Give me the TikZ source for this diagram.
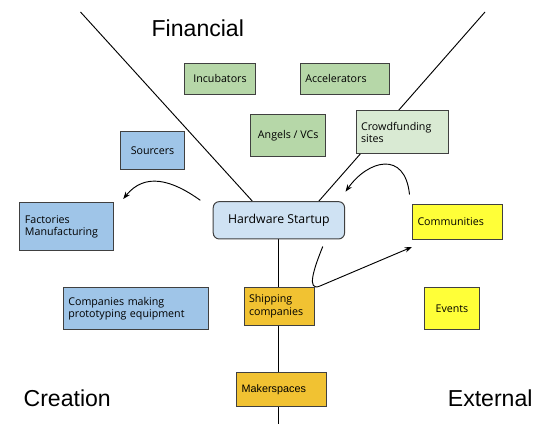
\documentclass[tikz,border=0pt]{standalone}
\usepackage{fontspec}
\setmainfont{Open Sans}
\newfontfamily\areafont{Liberation Sans}
\usepackage{tikz}
\usetikzlibrary{arrows.meta,calc,backgrounds}
\definecolor{creablue}{HTML}{9FC5E8}
\definecolor{startblue}{HTML}{CFE2F3}
\definecolor{fingreen}{HTML}{B6D7A8}
\definecolor{crowdgreen}{HTML}{D9EAD3}
\definecolor{extyellow}{HTML}{FFFF38}
\definecolor{shiporange}{HTML}{F1C232}
\definecolor{boxline}{HTML}{404040}
\tikzset{box/.style={draw=boxline, line width=0.75pt, inner sep=0pt, font=\fontsize{8}{9.3}\selectfont},
cbox/.style={box, align=center},
lbox/.style={box, align=left, inner xsep=3.75pt},
area/.style={font=\areafont\fontsize{17.3}{20}\selectfont},
link/.style={line width=0.7pt},
flow/.style={line width=0.7pt, -{Stealth[length=5.5pt,width=4pt]}}}

\begin{document}
\begin{tikzpicture}[x=0.75pt,y=-0.75pt]
\useasboundingbox (0,0) rectangle (549,438);

\node[area] (fin) at (197.8,28.3) {Financial};
\node[area] (crea) at (67.2,398.3) {Creation};
\node[area] (ext) at (490.2,398.3) {External};

% financial
\node[cbox, fill=fingreen, minimum width=53.3pt, minimum height=23.5pt] (incub) at (220,79) {Incubators};
\node[lbox, fill=fingreen, text width=59.5pt, minimum height=23.5pt] (accel) at (345,79) {Accelerators};
\node[cbox, fill=fingreen, minimum width=56.3pt, minimum height=31.5pt] (angels) at (288.2,135.7) {Angels / VCs};
\node[lbox, fill=crowdgreen, text width=61.8pt, minimum height=32pt] (crowd) at (402.3,132.3) {Crowdfunding\\sites};

% creation
\node[cbox, fill=creablue, minimum width=48.6pt, minimum height=28.7pt] (sourc) at (152.5,150.8) {Sourcers};
\node[lbox, fill=creablue, text width=62.3pt, minimum height=36pt] (fact) at (66.5,226.7) {Factories\\Manufacturing};
\node[lbox, fill=creablue, text width=101.5pt, minimum height=31.7pt] (proto) at (136,308.8) {Companies making\\prototyping equipment};

\node[cbox, fill=startblue, rounded corners=4.5pt, minimum width=98.5pt, minimum height=28pt, font=\fontsize{9.2}{11}\selectfont] (hw) at (278.9,220.3) {Hardware Startup};

\node[lbox, fill=shiporange, text width=45.6pt, minimum height=28.3pt] (ship) at (279.4,306.2) {Shipping\\companies};
\node[lbox, fill=shiporange, text width=59.7pt, minimum height=25.5pt, font=\areafont\fontsize{8.1}{9.3}\selectfont] (maker) at (281.5,389.7) {Makerspaces};

% external
\node[lbox, fill=extyellow, text width=60pt, minimum height=25.5pt] (comm) at (457.5,222) {Communities};
\node[cbox, fill=extyellow, minimum width=41pt, minimum height=31.5pt] (events) at (452,308.7) {Events};

\coordinate (fintl) at (80.5,12);
\coordinate (fintr) at (485,12);
\coordinate (stem) at (278.9,424);

\begin{pgfonlayer}{background}
\draw[link] (fintl) -- ($(hw.north west)+(39.6,0)$);
\draw[link] (fintr) -- ($(hw.north west)+(106.1,0)$);
\draw[link] (hw.south) -- (stem);
\end{pgfonlayer}

\coordinate (a1s) at (200.3,200.3);
\coordinate (a1e) at (123.2,199);
\coordinate (a2s) at (409.5,194.5);
\coordinate (a2e) at (345.5,191.7);
\coordinate (a3s) at (322.8,246.5);
\coordinate (a3e) at (412,247);

\draw[flow] (a1s) .. controls (172,180) and (145,172) .. (a1e);
\draw[flow] (a2s) .. controls (405,150) and (368,160) .. (a2e);
\draw[flow] (a3s) .. controls (314,268) and (306,292) .. (320,286) -- (a3e);

\end{tikzpicture}
\end{document}
